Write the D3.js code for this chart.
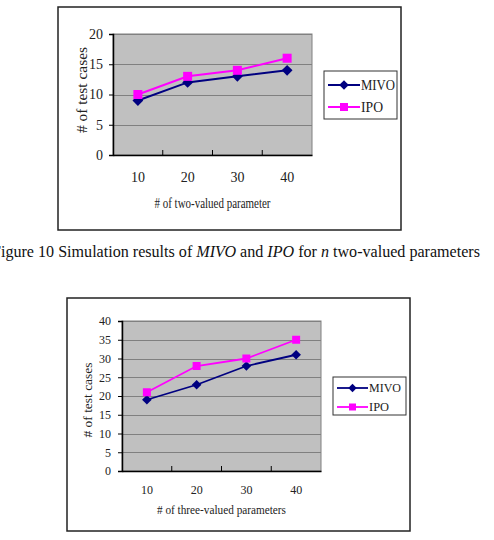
<!DOCTYPE html>
<html><head><meta charset="utf-8">
<script src="https://cdn.jsdelivr.net/npm/d3@7"></script>
<style>
html,body{margin:0;padding:0;background:#fff;}
svg{display:block;font-family:"Liberation Serif","Times New Roman",Times,serif;}
</style></head>
<body>
<svg id="c" width="494" height="540"></svg>
<script>
const categories = ["10","20","30","40"];
const seriesNames = ["MIVO","IPO"];
const mivoTwo = [9,12,13,14];
const ipoTwo = [10,13,14,16];
const mivoThree = [19,23,28,31];
const ipoThree = [21,28,30,35];
const yTicksTwo = [0,5,10,15,20];
const yTicksThree = [0,5,10,15,20,25,30,35,40];
const colors = ["#000080","#ff00ff"];
const FF = "'Liberation Serif','Times New Roman',Times,serif";

const svg = d3.select("#c");

function drawChart(o){
  const g = svg.append("g").attr("font-family",FF);
  g.append("rect").attr("x",o.box[0]).attr("y",o.box[1]).attr("width",o.box[2]-o.box[0]).attr("height",o.box[3]-o.box[1])
    .attr("fill","#fff").attr("stroke","#222").attr("stroke-width",1.5);
  const x = d3.scaleBand().domain(categories).range([o.px[0],o.px[1]]).padding(0);
  const y = d3.scaleLinear().domain([0,d3.max(o.yTicks)]).range([o.py[1],o.py[0]]);
  g.append("rect").attr("x",o.px[0]).attr("y",o.py[0]).attr("width",o.px[1]-o.px[0]).attr("height",o.py[1]-o.py[0])
    .attr("fill","#c0c0c0").attr("stroke","#808080").attr("stroke-width",1);
  g.selectAll(".grid").data(o.yTicks.slice(1)).join("line")
    .attr("x1",o.px[0]).attr("x2",o.px[1]).attr("y1",d=>Math.round(y(d))+0.5).attr("y2",d=>Math.round(y(d))+0.5)
    .attr("stroke","#808080").attr("stroke-width",1);
  const ya = d3.axisLeft(y).tickValues(o.yTicks).tickSize(4).tickPadding(o.yPad).tickFormat(d3.format("d"));
  const yg = g.append("g").attr("transform",`translate(${o.px[0]},0)`).call(ya).attr("font-family",FF);
  yg.select(".domain").attr("stroke","#000").attr("stroke-width",1.5);
  yg.selectAll(".tick line").attr("stroke","#000");
  yg.selectAll("text").attr("font-size",o.fs).attr("fill","#222");
  const xa = d3.axisBottom(x).tickSize(0).tickPadding(o.xPad);
  const xg = g.append("g").attr("transform",`translate(0,${o.py[1]})`).call(xa).attr("font-family",FF);
  xg.select(".domain").attr("stroke","#000").attr("stroke-width",1.5);
  xg.selectAll("text").attr("font-size",o.fs).attr("fill","#222");
  g.selectAll(".xt").data(categories.slice(1)).join("line")
    .attr("x1",d=>x(d)).attr("x2",d=>x(d)).attr("y1",o.py[1]).attr("y2",o.py[1]-5)
    .attr("stroke","#000").attr("stroke-width",1);
  g.append("text").attr("x",(o.px[0]+o.px[1])/2).attr("y",o.xTitleY).attr("text-anchor","middle")
    .attr("font-size",o.fs).attr("fill","#222").attr("textLength",o.xTitleLen).attr("lengthAdjust","spacingAndGlyphs").text(o.xTitle);
  g.append("text").attr("transform",`translate(${o.yTitleX},${o.yTitleY}) rotate(-90)`).attr("text-anchor","middle")
    .attr("font-size",o.fs).attr("fill","#222").attr("textLength",o.yTitleLen).attr("lengthAdjust","spacingAndGlyphs").text("# of test cases");
  const sets = [o.mivo,o.ipo];
  const line = d3.line().x((d,i)=>x(categories[i])+x.bandwidth()/2).y(d=>y(d));
  sets.forEach((s,k)=>{
    g.append("path").datum(s).attr("d",line).attr("fill","none").attr("stroke",colors[k]).attr("stroke-width",o.lw);
  });
  sets.forEach((s,k)=>{
    s.forEach((v,i)=>{ marker(g,k,x(categories[i])+x.bandwidth()/2,y(v),o.ms); });
  });
  const L = o.leg;
  g.append("rect").attr("x",L.x0).attr("y",L.y0).attr("width",L.x1-L.x0).attr("height",L.y1-L.y0)
    .attr("fill","#fff").attr("stroke","#333").attr("stroke-width",1);
  seriesNames.forEach((n,k)=>{
    const yy = L.rows[k];
    g.append("line").attr("x1",L.lx0).attr("x2",L.lx1).attr("y1",yy).attr("y2",yy).attr("stroke",colors[k]).attr("stroke-width",o.lw);
    marker(g,k,(L.lx0+L.lx1)/2,yy,L.ms);
    g.append("text").attr("x",L.lx1+1).attr("y",yy).attr("dy","0.35em").attr("font-size",L.fs).attr("fill","#222")
      .attr("textLength",L.tl[k]).attr("lengthAdjust","spacingAndGlyphs").text(n);
  });
}
function marker(g,k,cx,cy,s){
  if(k===0){
    const r = s*0.6;
    g.append("path").attr("d",`M${cx},${cy-r}L${cx+r},${cy}L${cx},${cy+r}L${cx-r},${cy}Z`).attr("fill",colors[0]);
  } else {
    g.append("rect").attr("x",cx-s/2).attr("y",cy-s/2).attr("width",s).attr("height",s).attr("fill",colors[1]);
  }
}

drawChart({box:[58,7,401,230],px:[113,312],py:[34,155],yTicks:yTicksTwo,mivo:mivoTwo,ipo:ipoTwo,
  fs:14,yPad:6,xPad:17,lw:2,ms:9,xTitle:"# of two-valued parameter",xTitleY:208,xTitleLen:116,
  yTitleX:87,yTitleY:90,yTitleLen:86,
  leg:{x0:324,y0:71,x1:397,y1:119,rows:[85,107],lx0:328,lx1:360,ms:8,fs:14,tl:[34,22]}});

drawChart({box:[67,298,410,531],px:[122,321],py:[321,471],yTicks:yTicksThree,mivo:mivoThree,ipo:ipoThree,
  fs:12,yPad:7,xPad:14,lw:1.8,ms:8,xTitle:"# of three-valued parameters",xTitleY:514,xTitleLen:129,
  yTitleX:92,yTitleY:400,yTitleLen:75,
  leg:{x0:333,y0:377,x1:406,y1:415,rows:[388,407],lx0:337,lx1:368,ms:7,fs:12,tl:[32,20]}});

const cap = svg.append("text").attr("x",-8).attr("y",257).attr("text-anchor","start").attr("font-size",16).attr("fill","#111")
  .attr("font-family",FF).attr("textLength",488).attr("lengthAdjust","spacingAndGlyphs");
cap.append("tspan").text("Figure 10 Simulation results of ");
cap.append("tspan").attr("font-style","italic").text("MIVO");
cap.append("tspan").text(" and ");
cap.append("tspan").attr("font-style","italic").text("IPO");
cap.append("tspan").text(" for ");
cap.append("tspan").attr("font-style","italic").text("n");
cap.append("tspan").text(" two-valued parameters");
</script>
</body></html>
